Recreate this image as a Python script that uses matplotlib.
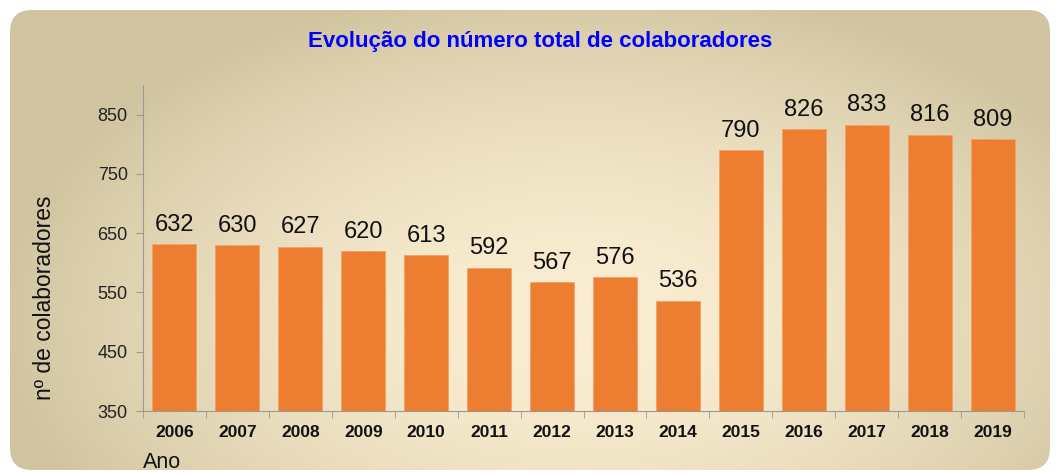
import matplotlib

matplotlib.use("Agg")
import matplotlib.pyplot as plt
import numpy as np
from matplotlib.patches import FancyBboxPatch

anos = ["2006", "2007", "2008", "2009", "2010", "2011", "2012",
        "2013", "2014", "2015", "2016", "2017", "2018", "2019"]
colaboradores = [632, 630, 627, 620, 613, 592, 567, 576, 536, 790, 826, 833, 816, 809]
yticks = [350, 450, 550, 650, 750, 850]

plt.rcParams["font.family"] = ["Liberation Sans", "DejaVu Sans"]

fig = plt.figure(figsize=(10.56, 4.74), dpi=100)
fig.patch.set_facecolor("white")

# fundo com gradiente e cantos arredondados
bg = fig.add_axes([0, 0, 1, 1])
bg.set_xlim(0, 1056)
bg.set_ylim(474, 0)
bg.axis("off")
yy, xx = np.mgrid[0:474, 0:1056]
d = np.sqrt(((xx - 580) / 580.0) ** 2 + ((yy - 320) / 340.0) ** 2)
d = np.clip(d, 0, 1)
c_in = np.array([0.98, 0.93, 0.82])
c_out = np.array([0.82, 0.77, 0.63])
img = c_in + (c_out - c_in) * d[..., None] ** 1.8
im = bg.imshow(img, extent=(0, 1056, 474, 0), zorder=0)
clip = FancyBboxPatch((10, 10), 1040, 460, boxstyle="round,pad=0,rounding_size=22",
                      transform=bg.transData, facecolor="none", edgecolor="none")
bg.add_patch(clip)
im.set_clip_path(clip)

ax = fig.add_axes([143 / 1056, 63 / 474, 881 / 1056, 326 / 474])
ax.patch.set_alpha(0)
x = np.arange(len(anos))
ax.bar(x, colaboradores, width=0.7, color="#ED7D31", edgecolor="#F4A06A", linewidth=0.6, zorder=2)
for xi, v in zip(x, colaboradores):
    ax.annotate(str(v), (xi, v), xytext=(0, 6), textcoords="offset points",
                ha="center", va="bottom", fontsize=17, color="#111111")

ax.set_ylim(350, 900)
ax.set_xlim(-0.5, len(anos) - 0.5)
ax.set_yticks(yticks)
ax.set_yticklabels([str(t) for t in yticks], fontsize=13, color="#222222")
ax.set_xticks(x)
ax.set_xticklabels(anos, fontsize=12.5, fontweight="bold", color="#111111")
ax.tick_params(axis="x", length=0, pad=10)
ax.set_xticks(np.arange(-0.5, len(anos), 1), minor=True)
ax.tick_params(axis="x", which="minor", length=5, color="#999999")
ax.tick_params(axis="y", length=5, color="#999999", pad=6)
for s in ["top", "right"]:
    ax.spines[s].set_visible(False)
for s in ["left", "bottom"]:
    ax.spines[s].set_color("#999999")

fig.text(540 / 1056, 1 - 42 / 474, "Evolução do número total de colaboradores",
         ha="center", va="center", fontsize=16, fontweight="bold", color="#0000FF")
fig.text(45 / 1056, 1 - 298 / 474, "nº de colaboradores", rotation=90,
         ha="center", va="center", fontsize=16.5, color="#111111")
fig.text(143 / 1056, 1 - 462 / 474, "Ano", ha="left", va="center",
         fontsize=15.5, color="#111111")

fig.savefig("out.png", dpi=100)
